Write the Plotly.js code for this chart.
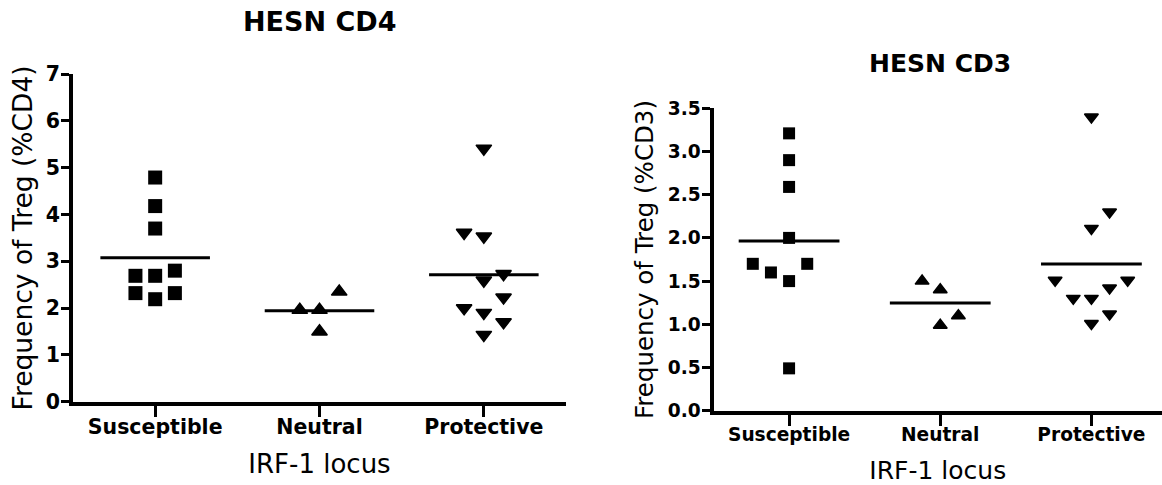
<!DOCTYPE html>
<html>
<head>
<meta charset="utf-8">
<script src="https://cdn.plot.ly/plotly-3.0.1.min.js"></script>
<style>
  html, body { margin: 0; padding: 0; background: #ffffff; }
  #chart { width: 1162px; height: 485px; }
</style>
</head>
<body>
<div id="chart"></div>
<script>
// ---------- data ----------
var categories = ["Susceptible", "Neutral", "Protective"];

// HESN CD4 : frequency of Treg (%CD4)
var cd4Susceptible = [4.79, 4.18, 3.70, 2.69, 2.69, 2.80, 2.32, 2.19, 2.32];
var cd4Neutral     = [2.35, 1.96, 1.96, 1.50];
var cd4Protective  = [5.41, 3.61, 3.53, 2.73, 2.59, 2.23, 2.00, 1.90, 1.70, 1.43];

// HESN CD3 : frequency of Treg (%CD3)
var cd3Susceptible = [3.21, 2.90, 2.59, 2.00, 1.70, 1.60, 1.50, 1.70, 0.49];
var cd3Neutral     = [1.50, 1.40, 1.10, 0.99];
var cd3Protective  = [3.40, 2.30, 2.11, 1.51, 1.42, 1.30, 1.30, 1.12, 1.01, 1.51];

// column-scatter spread of each dot (Prism-style column index: -2 .. +2)
var cd4SusceptibleSpread = [0, 0, 0, -1, 0, 1, -1, 0, 1];
var cd4NeutralSpread     = [1, -1, 0, 0];
var cd4ProtectiveSpread  = [0, -1, 0, 1, 0, 1, -1, 0, 1, 0];
var cd3SusceptibleSpread = [0, 0, 0, 0, -2, -1, 0, 1, 0];
var cd3NeutralSpread     = [-1, 0, 1, 0];
var cd3ProtectiveSpread  = [0, 1, 0, -2, 1, -1, 0, 1, 0, 2];

var cd4YTicks = [0, 1, 2, 3, 4, 5, 6, 7];
var cd3YTicks = [0, 0.5, 1.0, 1.5, 2.0, 2.5, 3.0, 3.5];

// ---------- helpers ----------
var SPREAD_STEP = 0.12;    // category units per spread column
var MEAN_HALF = 1 / 3;     // half-width of the mean bar in category units

function mean(a) { return a.reduce(function (s, v) { return s + v; }, 0) / a.length; }

function dots(values, spread, catIndex, symbol, size, xa, ya) {
  return {
    type: "scatter", mode: "markers", xaxis: xa, yaxis: ya,
    x: values.map(function (v, i) { return catIndex + spread[i] * SPREAD_STEP; }),
    y: values,
    marker: { symbol: symbol, size: size, color: "#000000",
              line: { color: "#000000", width: symbol === "square" ? 0 : 1.5 } },
    hoverinfo: "y", showlegend: false, cliponaxis: false
  };
}
function meanBar(values, catIndex, xa, ya) {
  var m = mean(values);
  return {
    type: "scatter", mode: "lines", xaxis: xa, yaxis: ya,
    x: [catIndex - MEAN_HALF, catIndex + MEAN_HALF], y: [m, m],
    line: { color: "#000000", width: 3 },
    hoverinfo: "y", showlegend: false, cliponaxis: false
  };
}

var traces = [
  dots(cd4Susceptible, cd4SusceptibleSpread, 0, "square", 14, "x", "y"),
  dots(cd4Neutral, cd4NeutralSpread, 1, "triangle-up", 13.5, "x", "y"),
  dots(cd4Protective, cd4ProtectiveSpread, 2, "triangle-down", 13.5, "x", "y"),
  meanBar(cd4Susceptible, 0, "x", "y"),
  meanBar(cd4Neutral, 1, "x", "y"),
  meanBar(cd4Protective, 2, "x", "y"),
  dots(cd3Susceptible, cd3SusceptibleSpread, 0, "square", 12, "x2", "y2"),
  dots(cd3Neutral, cd3NeutralSpread, 1, "triangle-up", 12, "x2", "y2"),
  dots(cd3Protective, cd3ProtectiveSpread, 2, "triangle-down", 12, "x2", "y2"),
  meanBar(cd3Susceptible, 0, "x2", "y2"),
  meanBar(cd3Neutral, 1, "x2", "y2"),
  meanBar(cd3Protective, 2, "x2", "y2")
];

// ---------- layout ----------
var W = 1162, H = 485;
var FONT = "DejaVu Sans, Liberation Sans, Arial, sans-serif";

function xAxis(domain, range, tickSize, titleSize, standoff) {
  return {
    domain: domain, range: range, fixedrange: true,
    tickmode: "array", tickvals: categories.map(function (c, i) { return i; }), ticktext: categories,
    ticks: "outside", ticklen: 11, tickwidth: 3, tickcolor: "#000",
    ticklabelstandoff: -7,
    showline: true, linewidth: 4, linecolor: "#000",
    showgrid: false, zeroline: false,
    tickfont: { family: FONT, size: tickSize, color: "#000", weight: "bold" },
    title: { text: "IRF-1 locus", standoff: standoff,
             font: { family: FONT, size: titleSize, color: "#000" } }
  };
}
function yAxis(domain, range, ticks, fmt, anchor, tickSize, titleText, titleSize, standoff) {
  return {
    domain: domain, range: range, fixedrange: true, anchor: anchor,
    tickmode: "array", tickvals: ticks, ticktext: ticks.map(function (t) { return fmt ? t.toFixed(1) : String(t); }),
    ticks: "outside", ticklen: 8, tickwidth: 3, tickcolor: "#000",
    ticklabelstandoff: -3,
    showline: true, linewidth: 4, linecolor: "#000",
    showgrid: false, zeroline: false,
    tickfont: { family: FONT, size: tickSize, color: "#000", weight: "bold" },
    title: { text: titleText, standoff: standoff,
             font: { family: FONT, size: titleSize, color: "#000" } }
  };
}

var layout = {
  width: W, height: H,
  margin: { l: 0, r: 0, t: 0, b: 0 },
  paper_bgcolor: "#ffffff", plot_bgcolor: "#ffffff",
  showlegend: false,
  xaxis: Object.assign(xAxis([73 / W, 566 / W], [-0.5, 2.5], 20.5, 26, 18), { anchor: "y" }),
  yaxis: yAxis([(H - 401.7) / H, (H - 74.1) / H], [0, 7], cd4YTicks, false, "x", 20.5,
               "Frequency of Treg (%CD4)", 26.5, 6),
  xaxis2: Object.assign(xAxis([713.5 / W, 1], [-0.5, 2.467], 18.6, 25, 19), { anchor: "y2" }),
  yaxis2: yAxis([(H - 410.7) / H, (H - 108.3) / H], [0, 3.5], cd3YTicks, true, "x2", 18.6,
                "Frequency of Treg (%CD3)", 24.5, 8),
  annotations: [
    { text: "HESN CD4", xref: "paper", yref: "paper", x: 319.5 / W, y: (H - 22) / H,
      xanchor: "center", yanchor: "middle", showarrow: false,
      font: { family: FONT, size: 27, color: "#000", weight: "bold" } },
    { text: "HESN CD3", xref: "paper", yref: "paper", x: 940 / W, y: (H - 64) / H,
      xanchor: "center", yanchor: "middle", showarrow: false,
      font: { family: FONT, size: 25, color: "#000", weight: "bold" } }
  ]
};

Plotly.newPlot("chart", traces, layout, { displayModeBar: false, staticPlot: true });
</script>
</body>
</html>
